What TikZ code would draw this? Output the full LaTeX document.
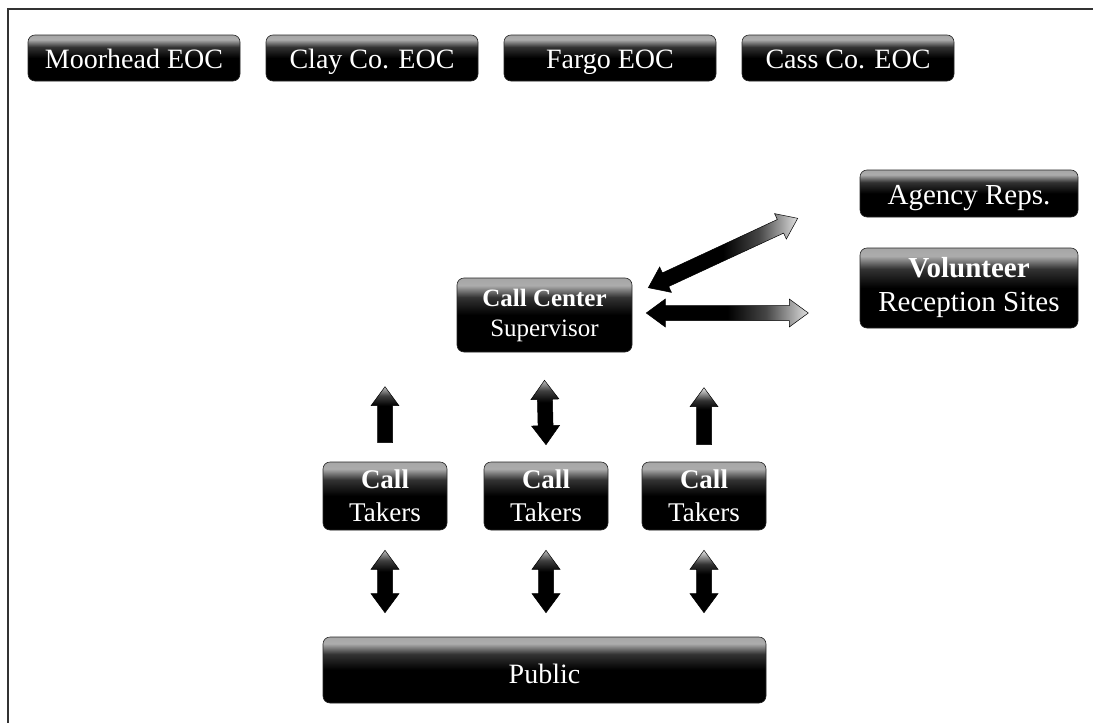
\documentclass[tikz,border=0pt]{standalone}
\usepackage{fontspec}
\setmainfont{Liberation Serif}
\usetikzlibrary{calc}

% box fill: black body with a grey band along the top edge
\pgfdeclareverticalshading{boxfade}{100bp}{color(0bp)=(black); color(25bp)=(black); color(50bp)=(black); color(62bp)=(gray!40!black); color(70bp)=(gray!65); color(75bp)=(gray!70); color(100bp)=(gray!70)}
% block arrows: dark body, pale end (right / top)
\pgfdeclarehorizontalshading{fadeH}{100bp}{color(0bp)=(black); color(25bp)=(black); color(50bp)=(black); color(62bp)=(gray!55!black); color(75bp)=(gray!25); color(100bp)=(gray!25)}
\pgfdeclareverticalshading{fadeV}{100bp}{color(0bp)=(black); color(25bp)=(black); color(58bp)=(black); color(67bp)=(gray!50!black); color(75bp)=(gray!50); color(100bp)=(gray!50)}
\pgfdeclareverticalshading{fadeVlight}{100bp}{color(0bp)=(black); color(25bp)=(black); color(56bp)=(black); color(64bp)=(gray!40!black); color(75bp)=(gray!15); color(100bp)=(gray!15)}

\tikzset{
  box/.style={shade, shading=boxfade, draw=black!85, line width=0.6pt,
    rounded corners=7pt, text=white, inner sep=0pt, align=center},
  oneline/.style={text height=21pt, text depth=0pt},
  eoc/.style={box, oneline, minimum width=212pt, minimum height=46pt,
    font=\fontsize{28}{32}\selectfont},
  taker/.style={box, minimum width=124pt, minimum height=68pt,
    font=\fontsize{27}{33}\selectfont},
  arrowedge/.style={draw=black, line width=0.5pt, line join=miter},
}

% block arrow with heads at both ends: #1 shading, #2 start, #3 end
\newcommand\dblarrow[3]{%
  \begin{scope}
    \path (#2) coordinate (ba-s) (#3) coordinate (ba-e);
    \pgfpointdiff{\pgfpointanchor{ba-s}{center}}{\pgfpointanchor{ba-e}{center}}%
    \pgfgetlastxy{\bdx}{\bdy}%
    \pgfmathsetmacro\bang{atan2(\bdy,\bdx)}%
    \pgfmathsetmacro\blen{veclen(\bdx,\bdy)}%
    \pgfmathsetmacro\bneck{\blen-19}%
    \shade[shading=#1, arrowedge, shift={(ba-s)}, rotate=\bang]
      (0,0) -- (19,14) -- (19,7.5) -- (\bneck,7.5) -- (\bneck,14) -- (\blen,0)
      -- (\bneck,-14) -- (\bneck,-7.5) -- (19,-7.5) -- (19,-14) -- cycle;
  \end{scope}}
% block arrow with one head, at the end: #1 shading, #2 start, #3 end
\newcommand\sglarrow[3]{%
  \begin{scope}
    \path (#2) coordinate (ba-s) (#3) coordinate (ba-e);
    \pgfpointdiff{\pgfpointanchor{ba-s}{center}}{\pgfpointanchor{ba-e}{center}}%
    \pgfgetlastxy{\bdx}{\bdy}%
    \pgfmathsetmacro\bang{atan2(\bdy,\bdx)}%
    \pgfmathsetmacro\blen{veclen(\bdx,\bdy)}%
    \pgfmathsetmacro\bneck{\blen-19}%
    \shade[shading=#1, arrowedge, shift={(ba-s)}, rotate=\bang]
      (0,7.5) -- (\bneck,7.5) -- (\bneck,14) -- (\blen,0)
      -- (\bneck,-14) -- (\bneck,-7.5) -- (0,-7.5) -- cycle;
  \end{scope}}

\begin{document}
\begin{tikzpicture}[x=1pt, y=-1pt]
\useasboundingbox (0,0) rectangle (1093,723);

% frame along the top and left
\draw[black!80, line width=1.6pt] (8,723) -- (8,9) -- (1093,9);

% emergency operations centres
\node[eoc] (moor)  at (134,58) {Moorhead EOC};
\node[eoc] (clay)  at (372,58) {Clay Co. EOC};
\node[eoc] (fargo) at (610,58) {Fargo EOC};
\node[eoc] (cass)  at (848,58) {Cass Co. EOC};

% partners on the right
\node[box, oneline, minimum width=218pt, minimum height=47pt,
      font=\fontsize{29}{33}\selectfont] (agency) at (969,193.5) {Agency Reps.};
\node[box, minimum width=218pt, minimum height=80pt,
      font=\fontsize{29}{34}\selectfont] (vol) at (969,288)
      {\textbf{Volunteer}\\Reception Sites};

% supervisor
\node[box, minimum width=175pt, minimum height=74pt,
      font=\fontsize{25}{30}\selectfont] (sup) at (544.5,315)
      {\textbf{Call Center}\\Supervisor};

% call takers
\node[taker] (tk1) at (385,496) {\textbf{Call}\\Takers};
\node[taker] (tk2) at (546,496) {\textbf{Call}\\Takers};
\node[taker] (tk3) at (704,496) {\textbf{Call}\\Takers};

% public
\node[box, minimum width=443pt, minimum height=66pt, text height=27pt, text depth=0pt,
      font=\fontsize{28}{32}\selectfont] (pub) at (544.5,670) {Public};

% supervisor to partners
\dblarrow{fadeH}{$(sup.north east)+(16,10)$}{$(agency.south west)+(-62,1)$}
\dblarrow{fadeH}{$(sup.east)+(14,-2)$}{$(sup.east)+(176,-2)$}

% call takers to supervisor
\sglarrow{fadeV}{$(tk1.north)+(0,-19)$}{$(tk1.north)+(0,-75)$}
\dblarrow{fadeV}{$(tk2.north)+(0,-17)$}{$(sup.south)+(0,28)$}
\sglarrow{fadeVlight}{$(tk3.north)+(0,-17)$}{$(tk3.north)+(0,-74)$}

% public to call takers
\dblarrow{fadeV}{$(tk1.south |- pub.north)+(0,-24)$}{$(tk1.south)+(0,20)$}
\dblarrow{fadeV}{$(tk2.south |- pub.north)+(0,-24)$}{$(tk2.south)+(0,20)$}
\dblarrow{fadeVlight}{$(tk3.south |- pub.north)+(0,-24)$}{$(tk3.south)+(0,20)$}
\end{tikzpicture}
\end{document}
